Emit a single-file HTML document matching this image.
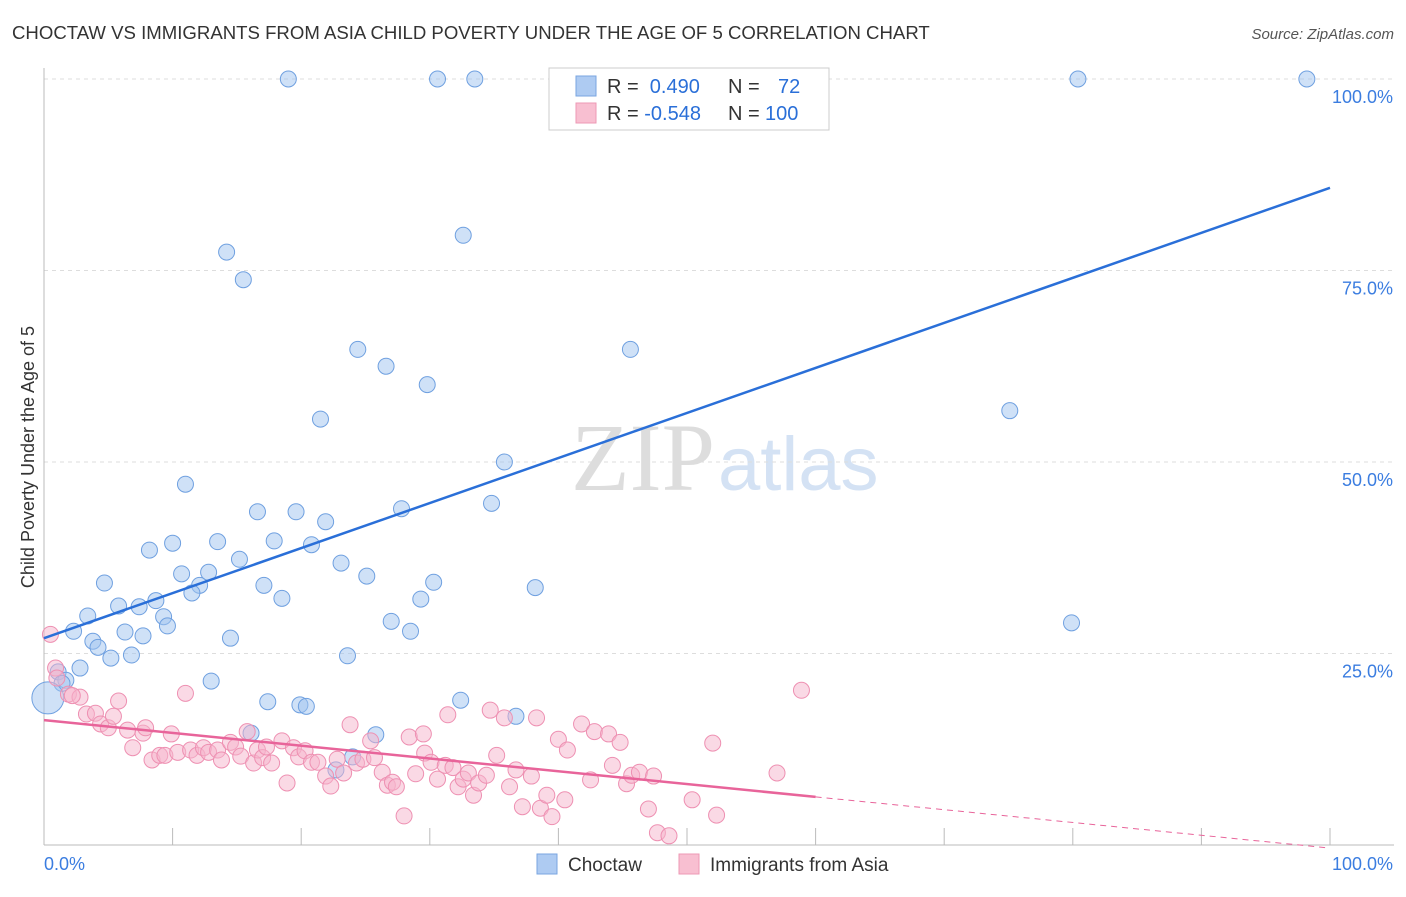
<!DOCTYPE html>
<html><head><meta charset="utf-8"><style>
body{margin:0;background:#fff;font-family:"Liberation Sans",sans-serif}
svg text{font-family:"Liberation Sans",sans-serif}
</style></head><body>
<svg id="c" width="1406" height="892">
<text x="12" y="39" font-size="18.6" fill="#333">CHOCTAW VS IMMIGRANTS FROM ASIA CHILD POVERTY UNDER THE AGE OF 5 CORRELATION CHART</text>
<text x="1394" y="39" font-size="15" fill="#555" font-style="italic" text-anchor="end">Source: ZipAtlas.com</text>
<text x="715" y="490" font-size="96" fill="#ddd" text-anchor="end" style="font-family:'Liberation Serif',serif">ZIP</text>
<text x="718" y="490" font-size="76" fill="#d4e2f4">atlas</text>
<text transform="translate(34,457) rotate(-90)" font-size="18" fill="#333" text-anchor="middle">Child Poverty Under the Age of 5</text>
<g id="grid"></g><g id="pts"></g><g id="lines"></g>
<g>
<rect x="549" y="68" width="280" height="62" fill="#fff" stroke="#ccc"/>
<rect x="576" y="76" width="20" height="20" fill="#aecbf2" stroke="#7aa6e0"/>
<rect x="576" y="103" width="20" height="20" fill="#f8bfd1" stroke="#ee99b5"/>
<text x="607" y="93" font-size="20" fill="#333">R = <tspan fill="#2a6fd8">&#160;0.490</tspan><tspan x="728">N = </tspan><tspan x="778" fill="#2a6fd8">72</tspan></text>
<text x="607" y="120" font-size="20" fill="#333">R = <tspan fill="#2a6fd8">-0.548</tspan><tspan x="728">N = </tspan><tspan x="765" fill="#2a6fd8">100</tspan></text>
</g>
<g>
<rect x="537" y="854" width="20" height="20" fill="#aecbf2" stroke="#7aa6e0"/>
<text x="568" y="871" font-size="19" fill="#333">Choctaw</text>
<rect x="679" y="854" width="20" height="20" fill="#f8bfd1" stroke="#ee99b5"/>
<text x="710" y="871" font-size="19" fill="#333">Immigrants from Asia</text>
</g>
</svg>
<script>
const blueX=[19.0,30.6,33.5,80.4,98.2,32.6,14.2,15.5,24.4,45.6,26.6,29.8,75.1,21.5,35.8,11.0,34.8,16.6,19.6,27.8,21.9,10.0,13.5,17.9,20.8,8.2,15.2,23.1,25.1,10.7,12.8,4.7,30.3,12.1,17.1,38.2,11.5,8.7,5.8,7.4,18.5,29.3,9.3,3.4,9.6,27.0,79.9,2.3,6.3,7.7,14.5,28.5,3.8,4.2,6.8,5.2,23.6,2.8,1.1,1.7,1.4,13.0,17.4,32.4,19.9,20.4,36.7,25.8,16.1,24.0,22.7,0.3];
const blueY=[100,100,100,100,100,79.6,77.4,73.8,64.7,64.7,62.5,60.1,56.7,55.6,50.0,47.1,44.6,43.5,43.5,43.9,42.2,39.4,39.6,39.7,39.2,38.5,37.3,36.8,35.1,35.4,35.6,34.2,34.3,33.9,33.9,33.6,32.9,31.9,31.2,31.1,32.2,32.1,29.8,29.9,28.6,29.2,29.0,27.9,27.8,27.3,27.0,27.9,26.6,25.8,24.8,24.4,24.7,23.1,22.6,21.5,21.1,21.4,18.7,18.9,18.3,18.1,16.8,14.4,14.6,11.5,9.8,19.2];
const pinkX=[0.5,0.9,1.0,1.9,2.8,2.2,3.3,4.0,4.4,5.0,5.4,5.8,6.5,6.9,7.7,8.4,7.9,9.0,9.4,9.9,10.4,11.0,11.4,11.9,12.4,12.8,13.5,13.8,14.5,14.9,15.3,15.8,16.3,16.6,17.0,17.3,17.7,18.5,18.9,19.4,19.8,20.3,20.8,21.3,21.9,22.3,22.8,23.3,23.8,24.3,24.8,25.4,25.7,26.3,26.7,27.1,27.4,28.0,28.4,28.9,29.5,29.6,30.1,30.6,31.2,31.4,31.8,32.2,32.6,33.0,33.4,33.8,34.4,34.7,35.2,35.8,36.2,36.7,37.2,37.9,38.3,38.6,39.1,39.5,40.0,40.7,40.5,41.8,42.5,42.8,43.9,44.2,44.8,45.3,45.7,46.3,47.0,47.4,47.7,48.6,50.4,52.0,52.3,57.0,58.9];
const pinkY=[27.5,23.1,21.8,19.7,19.3,19.5,17.1,17.2,15.8,15.3,16.8,18.8,15.0,12.7,14.6,11.1,15.3,11.7,11.7,14.5,12.1,19.8,12.4,11.7,12.7,12.1,12.4,11.1,13.4,12.8,11.6,14.8,10.7,12.4,11.4,12.8,10.7,13.6,8.1,12.7,11.5,12.3,10.8,10.8,9.0,7.7,11.2,9.4,15.7,10.7,11.2,13.6,11.4,9.5,7.8,8.2,7.6,3.8,14.1,9.3,14.5,12.0,10.8,8.6,10.4,17.0,10.1,7.6,8.6,9.4,6.5,8.1,9.1,17.6,11.7,16.6,7.6,9.8,5.0,9.0,16.6,4.8,6.5,3.7,13.8,12.4,5.9,15.8,8.5,14.8,14.5,10.4,13.4,8.0,9.1,9.5,4.7,9.0,1.6,1.2,5.9,13.3,3.9,9.4,20.2];
const yTicks=[25,50,75,100];
const yTickLabels=["25.0%","50.0%","75.0%","100.0%"];
const blueLine=[27.0,85.8];
const pinkLine=[16.3,-0.4];
const pinkSolidEnd=60;
const NS="http://www.w3.org/2000/svg";
const sx=v=>44+v*12.86, sy=v=>845-v*7.66;
function mk(tag,at,parent){const e=document.createElementNS(NS,tag);for(const k in at)e.setAttribute(k,at[k]);parent.appendChild(e);return e;}
const grid=document.getElementById('grid'),pts=document.getElementById('pts'),lines=document.getElementById('lines');
yTicks.forEach((t,i)=>{
 const l=mk('line',{x1:44,x2:1394,y1:sy(t),y2:sy(t),stroke:'#ddd','stroke-dasharray':'4,4'},grid);
 
 
 const tx=mk('text',{x:1393,y:sy(t)+24,'font-size':18,fill:'#3b7de0','text-anchor':'end'},grid);
 tx.textContent=yTickLabels[i];
 
 
});
const ax=mk('line',{x1:44,x2:44,y1:68,y2:845,stroke:'#bbb'},grid);


const bx=mk('line',{x1:44,x2:1394,y1:845,y2:845,stroke:'#bbb'},grid);


for(let i=1;i<=10;i++){const t=mk('line',{x1:sx(i*10),x2:sx(i*10),y1:828,y2:845,stroke:'#bbb'},grid);
 
 }
[[0,"0.0%",'start',44],[100,"100.0%",'end',1393]].forEach(a=>{const t=mk('text',{x:a[3],y:870,'font-size':18,fill:'#3b7de0','text-anchor':a[2]},grid);t.textContent=a[1];
 
 });
blueX.forEach((x,i)=>{const r=(i===blueX.length-1)?16:8;const c=mk('circle',{cx:sx(x),cy:sy(blueY[i]),r:r,fill:'rgba(160,195,240,0.5)',stroke:'#6fa0e0','stroke-width':1},pts);
 
 });
pinkX.forEach((x,i)=>{const c=mk('circle',{cx:sx(x),cy:sy(pinkY[i]),r:8,fill:'rgba(245,180,204,0.5)',stroke:'#ee90b2','stroke-width':1},pts);
 
 });
const bl=mk('line',{x1:sx(0),y1:sy(blueLine[0]),x2:sx(100),y2:sy(blueLine[1]),stroke:'#2a6fd8','stroke-width':2.5},lines);


const py=x=>pinkLine[0]+(pinkLine[1]-pinkLine[0])*x/100;
const pl=mk('line',{x1:sx(0),y1:sy(py(0)),x2:sx(pinkSolidEnd),y2:sy(py(pinkSolidEnd)),stroke:'#e8649a','stroke-width':2.5},lines);


const pd=mk('line',{x1:sx(pinkSolidEnd),y1:sy(py(pinkSolidEnd)),x2:sx(100),y2:sy(py(100)),stroke:'#e8649a','stroke-width':1,'stroke-dasharray':'6,5'},lines);


</script>
</body></html>
